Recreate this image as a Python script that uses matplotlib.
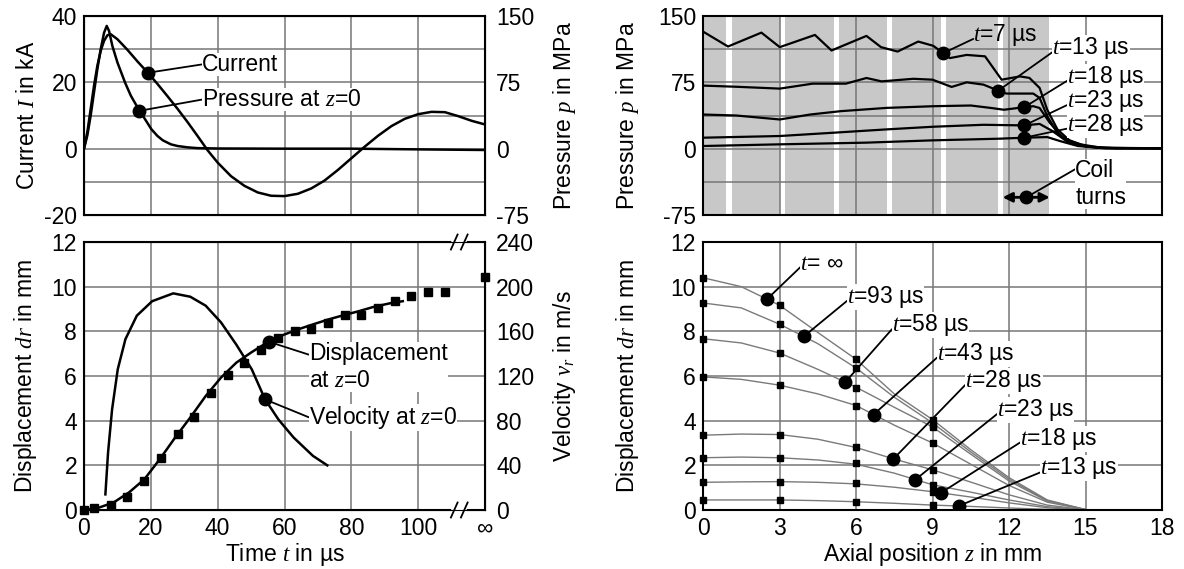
import matplotlib.pyplot as plt
import matplotlib.transforms as mtransforms
import numpy as np
from matplotlib.ticker import MultipleLocator

plt.rcParams['font.family'] = ['Liberation Sans', 'DejaVu Sans']
plt.rcParams['font.size'] = 16.5
plt.rcParams['mathtext.fontset'] = 'custom'
plt.rcParams['mathtext.it'] = 'Liberation Serif:italic'
plt.rcParams['mathtext.rm'] = 'Liberation Sans'
plt.rcParams['axes.unicode_minus'] = False

# --- top left: current and pressure at z=0 over time
cur_t = [0, 1, 2, 3, 4, 5, 6, 7, 8, 10, 13, 16, 19, 22, 25, 28, 31, 34, 37, 40,
         44, 48, 52, 56, 60, 64, 68, 72, 76, 80, 84, 88, 92, 96, 100, 104, 108,
         112, 116, 120]
cur_ka = [0, 5, 12, 19, 25, 29.5, 32.5, 34.2, 34.5, 33, 29.8, 26.3, 23, 19.5,
          15.8, 12, 8, 3.8, -0.5, -4.2, -8.3, -11.2, -13.2, -14.2, -14.3, -13.6,
          -12, -9.6, -6.4, -2.9, 0.6, 3.9, 6.8, 9.0, 10.4, 11.1, 11.0, 9.8, 8.4, 7.3]
pres_t = [0, 1, 2, 3, 4, 5, 6, 6.8, 7.5, 8.5, 10, 12.3, 14, 16.6, 18, 20.2, 22,
          23.6, 26, 28, 31, 34, 40, 60, 80, 100, 120]
pres_mpa = [0, 15, 37.5, 63.8, 90, 112.5, 131, 138.8, 133, 116, 97.5, 74.6, 60,
            42.8, 34.9, 21.8, 14.3, 9.4, 4.9, 3, 1.5, 0.6, 0.2, 0, 0, -0.8, -1.5]

# --- bottom left: displacement and velocity at z=0 over time
disp_line_t = [0, 4.35, 8.9, 13.5, 18.1, 22.7, 27.3, 31.8, 36.4, 41, 45.6, 50.2,
               54.7, 59.3, 63.9, 68.5, 73.1, 77.6, 82.2, 86.8, 91.4, 95.4]
disp_line_mm = [0, 0.1, 0.34, 0.79, 1.38, 2.28, 3.25, 4.14, 5.1, 5.93, 6.6, 7.07,
                7.49, 7.82, 8.08, 8.31, 8.53, 8.72, 8.9, 9.1, 9.25, 9.35]
disp_meas_t = [0, 3, 8, 13, 18, 23, 28, 33, 38, 43, 48, 53, 58, 63, 68, 73, 78,
               83, 88, 93, 98, 103, 108]
disp_meas_mm = [0.0, 0.07, 0.22, 0.57, 1.28, 2.35, 3.39, 4.18, 5.23, 6.04, 6.6,
                7.15, 7.71, 8.01, 8.11, 8.38, 8.75, 8.72, 9.05, 9.35, 9.6, 9.75, 9.75]
disp_inf_mm = 10.44
vel_t = [6.4, 7.2, 8.4, 10.1, 12.4, 15.8, 20.4, 26.7, 31.8, 36.4, 41, 45.6, 50.2,
         54.2, 58.2, 62.7, 68.5, 72.8]
vel_ms = [14, 51.5, 90, 126, 153, 174, 187, 194, 191, 183, 168, 148, 126, 99, 81,
          65, 48.5, 40]

# --- top right: pressure along z at several times
p_z7 = [0, 0.98, 2.29, 3.01, 4.39, 5.04, 6.41, 6.98, 7.63, 8.44, 9.03, 9.42, 9.68,
        10.34, 11.06, 11.71, 12.43, 12.8, 13.2, 13.5, 13.9, 14.4, 15.05, 15.8, 18]
p_7 = [132.4, 115.5, 131.2, 114.8, 128.6, 111, 127.5, 114.8, 109.8, 121.1, 116.3,
       108, 102.4, 106, 104.4, 78, 81.7, 80, 68.7, 44, 21.8, 8.6, 2.6, 0.4, 0.4]
p_z13 = [0, 1.3, 3.01, 4.3, 5.6, 6.41, 7.0, 8.25, 9.0, 9.75, 10.34, 11.0, 11.58,
         11.9, 12.95, 13.2, 13.5, 13.9, 14.4, 15.05, 16.2, 18]
p_13 = [71.3, 70, 67.9, 73.5, 73.5, 79.9, 76.1, 79, 78, 69.8, 75, 72.4, 65.6, 62.3,
        62.3, 57.4, 36.8, 18, 7, 2.6, 0.4, 0.4]
p_z18 = [0, 1.3, 3.01, 4.2, 5.4, 7.2, 9.03, 10.5, 11.3, 11.8, 12.6, 12.95, 13.2,
         13.6, 14.1, 14.8, 15.6, 18]
p_18 = [38.6, 37.5, 33, 38.6, 42.4, 46.1, 48, 48.8, 46, 44, 46.9, 48, 46, 29.3,
        12.4, 4.9, 1.1, 0.4]
p_z23 = [0, 3.01, 5.1, 7.2, 9.03, 11.0, 12.6, 13.2, 13.7, 14.25, 14.9, 15.6, 18]
p_23 = [12.4, 14.3, 18, 21.8, 24.8, 27, 26.3, 28, 20, 8.6, 3, 0.8, 0.4]
p_z28 = [0, 3.01, 6.4, 9.0, 11.65, 12.6, 13.5, 14.0, 14.7, 15.6, 18]
p_28 = [3, 4.9, 6.8, 9.4, 11.3, 12.4, 13.1, 8.6, 3, 0.8, 0.4]
coil_gaps = [1.02, 3.1, 5.24, 7.33, 9.42, 11.65]
coil_end = 13.55

# --- bottom right: displacement along z at several times
dz = [0, 1.5, 3, 4.5, 6, 7.5, 9, 10.5, 12, 13.5, 15]
dr_inf = [10.4, 10.0, 9.17, 7.95, 6.75, 5.2, 4.05, 2.7, 1.45, 0.45, 0.02]
dr_93 = [9.27, 9.05, 8.32, 7.45, 6.36, 5.05, 3.9, 2.6, 1.38, 0.42, 0.02]
dr_58 = [7.67, 7.48, 7.03, 6.3, 5.5, 4.6, 3.72, 2.5, 1.3, 0.4, 0.02]
dr_43 = [5.96, 5.85, 5.59, 5.2, 4.68, 3.8, 3.0, 2.05, 1.1, 0.35, 0.02]
dr_28 = [3.35, 3.4, 3.38, 3.17, 2.8, 2.28, 1.8, 1.25, 0.68, 0.22, 0.01]
dr_23 = [2.34, 2.37, 2.34, 2.24, 2.05, 1.65, 1.13, 0.8, 0.45, 0.15, 0.01]
dr_18 = [1.24, 1.26, 1.27, 1.24, 1.17, 1.02, 0.82, 0.58, 0.32, 0.1, 0.0]
dr_13 = [0.45, 0.45, 0.45, 0.42, 0.37, 0.3, 0.22, 0.16, 0.09, 0.03, 0.0]
sq_z = [0, 3, 6, 9]
sq_inf = [10.4, 9.17, 6.78, 4.02]
sq_93 = [9.27, 8.32, 6.36, 3.8]
sq_58 = [7.67, 7.03, 5.48, 3.7]
sq_43 = [5.96, 5.59, 4.65, 2.98]
sq_28 = [3.35, 3.38, 2.83, 1.79]
sq_23 = [2.34, 2.34, 2.09, 1.12]
sq_18 = [1.24, 1.27, 1.19, 0.82]
sq_13 = [0.45, 0.45, 0.37, 0.22]

GRID = '#777777'
W, H = 1184, 569
fig = plt.figure(figsize=(W / 100, H / 100), dpi=100)
ax_tl = fig.add_axes([84 / W, 1 - 215 / H, 401 / W, 199 / H])
ax_bl = fig.add_axes([84 / W, 1 - 510 / H, 401 / W, 268 / H])
ax_tr = fig.add_axes([703 / W, 1 - 215 / H, 459 / W, 199 / H])
ax_br = fig.add_axes([703 / W, 1 - 510 / H, 459 / W, 268 / H])


def frame(ax):
    ax.set_axisbelow(True)
    ax.tick_params(which='both', length=0, pad=5)
    for s in ax.spines.values():
        s.set_linewidth(1.5)
    ax.grid(True, which='both', color=GRID, lw=1.1)


def label(ax, txt, xy, xytext, rel=(0, 0.5), boxed=True, **kw):
    bb = dict(boxstyle='square,pad=0.0', fc='white', ec='none')
    if not boxed:
        bb = dict(boxstyle='square,pad=0.0', fc='none', ec='none')
    ax.annotate(txt, xy=xy, xytext=xytext, va='center', ha='left', bbox=bb,
                arrowprops=dict(arrowstyle='-', color='black', lw=1.3,
                                shrinkA=0, shrinkB=0, relpos=rel), **kw)


# top left
frame(ax_tl)
ax_tl.set_xlim(0, 120)
ax_tl.set_ylim(-20, 40)
ax_tl.xaxis.set_major_locator(MultipleLocator(20))
ax_tl.yaxis.set_major_locator(MultipleLocator(20))
ax_tl.yaxis.set_minor_locator(MultipleLocator(10))
ax_tl.tick_params(labelbottom=False)
ax_tl.plot(cur_t, cur_ka, color='black', lw=1.8)
ax_tl.set_ylabel('Current $I$ in kA')
ax_tl.yaxis.set_label_coords(-0.112, 0.5)
ax_tl2 = ax_tl.twinx()
ax_tl2.set_ylim(-75, 150)
ax_tl2.set_yticks([-75, 0, 75, 150])
ax_tl2.tick_params(length=0, pad=8)
ax_tl2.plot(pres_t, pres_mpa, color='black', lw=1.8)
ax_tl2.set_ylabel('Pressure $p$ in MPa')
ax_tl2.yaxis.set_label_coords(1.165, 0.5)
ci = np.interp(19.1, cur_t, cur_ka)
ax_tl.plot(19.1, ci, 'o', color='black', ms=9)
label(ax_tl, 'Current', (19.1, ci), (35.3, 25.4))
pi = np.interp(16.6, pres_t, pres_mpa)
ax_tl2.plot(16.6, pi, 'o', color='black', ms=9)
label(ax_tl2, 'Pressure at $z$=0', (16.6, pi), (35.3, 55.5))

# bottom left
frame(ax_bl)
ax_bl.set_xlim(0, 120)
ax_bl.set_ylim(0, 12)
ax_bl.set_xticks([0, 20, 40, 60, 80, 100, 120])
ax_bl.set_xticklabels(['0', '20', '40', '60', '80', '100', '∞'])
ax_bl.yaxis.set_major_locator(MultipleLocator(2))
ax_bl.plot(disp_line_t, disp_line_mm, color='black', lw=1.8)
ax_bl.plot(disp_meas_t, disp_meas_mm, 's', color='black', ms=5.5, clip_on=False)
ax_bl.plot([120], [disp_inf_mm], 's', color='black', ms=5.5, clip_on=False, zorder=6)
ax_bl.set_ylabel('Displacement $dr$ in mm')
ax_bl.yaxis.set_label_coords(-0.112, 0.5)
ax_bl.set_xlabel('Time $t$ in µs', labelpad=1)
ax_bl2 = ax_bl.twinx()
ax_bl2.set_ylim(0, 240)
ax_bl2.yaxis.set_major_locator(MultipleLocator(40))
ax_bl2.tick_params(length=0, pad=8)
ax_bl2.plot(vel_t, vel_ms, color='black', lw=1.8)
ax_bl2.set_ylabel('Velocity $v_r$ in m/s')
ax_bl2.yaxis.set_label_coords(1.165, 0.5)
di = np.interp(55.3, disp_line_t, disp_line_mm)
ax_bl.plot(55.3, di, 'o', color='black', ms=9)
label(ax_bl, 'Displacement\nat $z$=0', (55.3, di), (67.3, 6.4), rel=(0, 0.75),
      multialignment='left')
vi = np.interp(54.2, vel_t, vel_ms)
ax_bl2.plot(54.2, vi, 'o', color='black', ms=9)
label(ax_bl2, 'Velocity at $z$=0', (54.2, vi), (67.3, 83))

# axis break marks
tr = mtransforms.blended_transform_factory(ax_bl.transData, ax_bl.transAxes)
for yb in (0, 1):
    ax_bl.plot([110.8, 113.8], [yb, yb], color='white', lw=4, transform=tr,
               clip_on=False, zorder=7)
    for xb in (110.8, 113.8):
        ax_bl.plot([xb - 1.0, xb + 1.0], [yb - 0.028, yb + 0.028], color='black',
                   lw=1.3, transform=tr, clip_on=False, zorder=8)

# top right
frame(ax_tr)
ax_tr.set_xlim(0, 18)
ax_tr.set_ylim(-75, 150)
ax_tr.xaxis.set_major_locator(MultipleLocator(3))
ax_tr.yaxis.set_major_locator(MultipleLocator(75))
ax_tr.yaxis.set_minor_locator(MultipleLocator(37.5))
ax_tr.tick_params(labelbottom=False)
ax_tr.axvspan(0, coil_end, color='#c8c8c8', lw=0, zorder=0.1)
for g in coil_gaps:
    ax_tr.axvspan(g - 0.1, g + 0.1, color='white', lw=0, zorder=0.2)
for zz, pp in [(p_z7, p_7), (p_z13, p_13), (p_z18, p_18), (p_z23, p_23),
               (p_z28, p_28)]:
    ax_tr.plot(zz, pp, color='black', lw=1.6)
ax_tr.set_ylabel('Pressure $p$ in MPa')
ax_tr.yaxis.set_label_coords(-0.135, 0.5)
tr_labels = [(p_z7, p_7, 9.42, '$t$=7 µs', (10.6, 128.5), False),
             (p_z13, p_13, 11.58, '$t$=13 µs', (13.7, 113.5), True),
             (p_z18, p_18, 12.6, '$t$=18 µs', (14.27, 81.0), True),
             (p_z23, p_23, 12.6, '$t$=23 µs', (14.27, 53.6), True),
             (p_z28, p_28, 12.6, '$t$=28 µs', (14.27, 27.0), True)]
for zz, pp, zd, txt, pos, boxed in tr_labels:
    pd = np.interp(zd, zz, pp)
    ax_tr.plot(zd, pd, 'o', color='black', ms=9, zorder=4)
    label(ax_tr, txt, (zd, pd), pos, rel=(0, 0.35), boxed=boxed)
ax_tr.annotate('', xy=(11.75, -55), xytext=(13.6, -55),
               arrowprops=dict(arrowstyle='<|-|>', color='black', lw=2,
                               mutation_scale=14, shrinkA=0, shrinkB=0))
ax_tr.plot(12.68, -55, 'o', color='black', ms=9)
label(ax_tr, 'Coil\nturns', (12.68, -55), (14.6, -40), rel=(0, 0.8),
      multialignment='left')

# bottom right
frame(ax_br)
ax_br.set_xlim(0, 18)
ax_br.set_ylim(0, 12)
ax_br.xaxis.set_major_locator(MultipleLocator(3))
ax_br.yaxis.set_major_locator(MultipleLocator(2))
ax_br.set_xlabel('Axial position $z$ in mm', labelpad=1)
ax_br.set_ylabel('Displacement $dr$ in mm')
ax_br.yaxis.set_label_coords(-0.135, 0.5)
br_sets = [(dr_inf, sq_inf, 2.51, '$t$= ∞', (3.82, 11.03)),
           (dr_93, sq_93, 3.95, '$t$=93 µs', (5.65, 9.54)),
           (dr_58, sq_58, 5.58, '$t$=58 µs', (7.41, 8.27)),
           (dr_43, sq_43, 6.69, '$t$=43 µs', (9.18, 7.0)),
           (dr_28, sq_28, 7.47, '$t$=28 µs', (10.29, 5.78)),
           (dr_23, sq_23, 8.33, '$t$=23 µs', (11.53, 4.47)),
           (dr_18, sq_18, 9.33, '$t$=18 µs', (12.44, 3.2)),
           (dr_13, sq_13, 10.02, '$t$=13 µs', (13.23, 1.86))]
for line, sq, zd, txt, pos in br_sets:
    ax_br.plot(dz, line, color='#7a7a7a', lw=1.0)
    ax_br.plot(sq_z, sq, 's', color='black', ms=5, clip_on=False, zorder=5)
for line, sq, zd, txt, pos in br_sets:
    dd = np.interp(zd, dz, line)
    ax_br.plot(zd, dd, 'o', color='black', ms=9, zorder=6)
    label(ax_br, txt, (zd, dd), pos, rel=(0, 0.35))

fig.savefig('out.png', dpi=100)
